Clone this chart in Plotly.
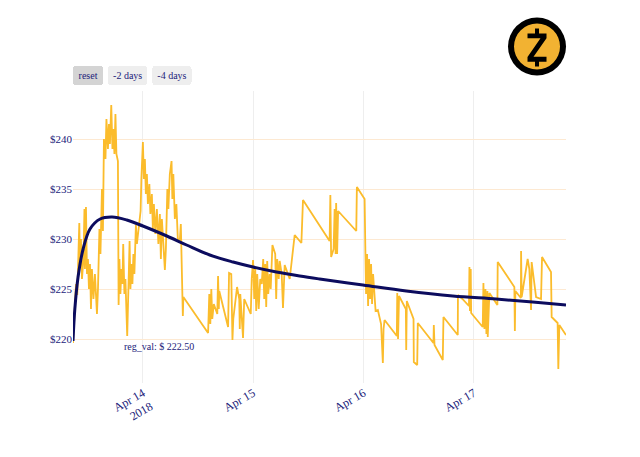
import pandas as pd
import plotly.graph_objects as go

BASE_TIME = "2018-04-14 00:00"

# price series: hours relative to BASE_TIME, and price in USD
price_hours = [
    -15.20, -14.83, -14.55, -14.27, -14.01, -13.83, -13.68, -13.47, -13.25, -12.92,
    -12.71, -12.60, -12.38, -12.16, -11.95, -11.73, -11.51, -11.29, -11.08, -10.75,
    -10.43, -9.99, -9.77, -9.45, -9.23, -8.90, -8.69, -8.47, -8.14, -7.93,
    -7.60, -7.38, -7.17, -6.88, -6.62, -6.41, -6.19, -5.97, -5.76, -5.43,
    -5.28, -5.10, -4.89, -4.67, -4.45, -4.28, -4.02, -3.80, -3.41, -3.15,
    -2.89, -2.71, -2.50, -2.28, -2.06, -1.85, -1.52, -1.30, -0.98, -0.50,
    -0.33, 0.00, 0.22, 0.43, 0.65, 0.87, 1.09, 1.41, 1.63, 1.95,
    2.17, 2.39, 2.71, 3.04, 3.37, 3.69, 3.91, 4.13, 4.45, 4.78,
    5.00, 5.32, 5.54, 5.86, 6.23, 6.41, 6.62, 6.95, 7.28, 7.60,
    8.04, 8.25, 8.69, 8.80, 14.18, 14.44, 14.66, 14.88, 15.09, 15.42,
    16.18, 16.35, 16.51, 16.61, 18.53, 18.74, 19.22, 19.48, 19.66, 20.48,
    20.96, 21.07, 21.18, 21.78, 22.04, 23.46, 23.67, 23.96, 24.22, 24.43,
    24.65, 24.87, 25.19, 25.52, 25.85, 26.17, 26.39, 26.61, 26.82, 27.04,
    27.26, 27.58, 27.80, 28.17, 28.78, 28.99, 29.21, 29.54, 29.75, 30.19,
    30.47, 30.84, 31.93, 33.01, 34.47, 34.82, 40.61, 40.77, 40.94, 41.48,
    41.70, 41.92, 42.03, 42.24, 42.46, 46.41, 46.54, 48.22, 48.37, 48.54,
    48.76, 48.98, 49.19, 49.41, 49.63, 49.84, 50.06, 50.28, 50.61, 51.10,
    51.80, 52.19, 52.34, 52.56, 55.23, 55.32, 55.49, 55.71, 57.19, 57.27,
    57.40, 58.86, 58.92, 59.66, 59.79, 63.20, 63.27, 63.42, 65.22, 65.37,
    68.48, 68.52, 69.50, 70.91, 71.02, 71.13, 71.30, 71.39, 73.91, 74.06,
    74.28, 74.50, 74.71, 74.93, 75.00, 75.36, 77.10, 77.17, 80.79, 80.90,
    81.01, 82.21, 82.25, 82.38, 82.97, 83.68, 84.05, 84.42, 84.55, 85.51,
    86.59, 86.81, 88.76, 88.90, 90.20, 90.35, 90.57, 92.02,
]
price_values = [
    219.6, 222.4, 225.5, 224.4, 229.0, 231.6, 227.5, 230.0, 226.0, 228.0,
    233.0, 227.0, 233.2, 226.5, 228.0, 225.0, 227.5, 223.0, 227.0, 224.0,
    226.5, 222.5, 225.0, 231.0, 228.5, 235.0, 230.8, 240.0, 238.0, 242.0,
    239.0, 241.5, 239.5, 243.4, 239.0, 241.0, 238.5, 242.5, 238.5, 237.8,
    223.4, 228.0, 224.5, 227.0, 225.5, 229.5, 224.5, 226.0, 220.3, 224.5,
    229.8, 225.0, 227.5, 225.5, 228.5, 226.5, 231.4, 229.5, 231.0, 232.8,
    236.0, 239.7, 236.0, 238.0, 234.5, 236.5, 233.5, 235.5, 232.5, 234.5,
    231.0, 233.5, 230.5, 233.0, 229.5, 232.5, 228.0, 232.0, 229.5, 226.9,
    229.0, 235.0, 233.0, 236.5, 237.8, 234.0, 236.5, 232.0, 233.5, 230.0,
    229.9, 231.5, 222.3, 224.2, 220.6, 224.5, 221.5, 225.0, 222.0, 223.5,
    222.5, 226.3, 223.0, 224.8, 221.2, 226.6, 226.5, 219.9, 222.0, 225.2,
    224.0, 221.0, 224.5, 220.1, 224.0, 222.5, 226.0, 227.9, 224.0, 227.0,
    222.8, 226.5, 223.0, 226.0, 225.5, 228.0, 224.0, 227.5, 223.2, 227.8,
    224.5, 226.5, 225.0, 229.4, 228.5, 224.0, 228.0, 226.0, 227.8, 226.5,
    223.1, 227.4, 226.0, 230.4, 229.6, 233.9, 229.8, 234.4, 228.2, 229.0,
    233.0, 228.5, 233.6, 228.5, 232.8, 230.8, 235.2, 234.0, 229.3, 224.5,
    228.5, 223.3, 228.0, 224.0, 227.5, 223.5, 226.5, 224.5, 222.8, 222.9,
    221.5, 217.6, 221.0, 221.9, 220.3, 224.6, 220.0, 224.3, 223.0, 218.9,
    223.8, 222.0, 217.7, 217.4, 221.6, 219.6, 221.4, 219.4, 217.9, 222.2,
    220.4, 224.4, 224.0, 223.3, 227.2, 222.8, 227.0, 222.6, 221.2, 225.6,
    221.0, 225.0, 220.5, 224.8, 220.2, 224.6, 223.4, 227.7, 225.2, 220.8,
    224.8, 224.1, 228.8, 224.2, 225.9, 228.0, 227.0, 222.9, 227.7, 224.2,
    224.0, 228.2, 226.7, 222.2, 221.6, 217.0, 221.4, 220.4,
]

# regression curve samples
reg_hours = [-15.20, -14.80, -14.10, -13.00, -11.50, -9.30, -6.70, -3.50, 0.00, 5.20,
             9.50, 14.55, 19.61, 23.96, 29.04, 34.10, 38.44, 47.85, 57.27, 67.39,
             76.82, 84.77, 92.02]
reg_values = [219.8, 223.0, 226.2, 229.0, 231.0, 232.0, 232.2, 231.9, 231.3, 230.3,
              229.4, 228.4, 227.7, 227.2, 226.7, 226.3, 226.0, 225.4, 224.8, 224.3,
              224.0, 223.7, 223.4]

reg_label = "reg_val: $ 222.50"
reg_label_hour = 3.58
reg_label_value = 219.23

y_range = [215.6, 244.8]
y_tick0 = 220
y_dtick = 5

base = pd.Timestamp(BASE_TIME)
to_time = lambda hrs: [base + pd.Timedelta(hours=h) for h in hrs]

GOLD = "#FBBC2C"
NAVY = "#0C0C5E"
TEXT = "#22227A"

fig = go.Figure()
fig.add_trace(go.Scatter(x=to_time(price_hours), y=price_values, mode="lines",
                         line=dict(color=GOLD, width=1.8), name="price",
                         showlegend=False))
fig.add_trace(go.Scatter(x=to_time(reg_hours), y=reg_values, mode="lines",
                         line=dict(color=NAVY, width=3, shape="spline"),
                         name="regression", showlegend=False))

fig.add_annotation(x=base + pd.Timedelta(hours=reg_label_hour), y=reg_label_value,
                   text=reg_label, showarrow=False,
                   font=dict(size=10, color=TEXT, family="Liberation Serif"))

# logo (Zcash-like coin) drawn as shapes, anchored in paper coordinates
ax, ay = 0.9412, 1.1524
common = dict(xref="paper", yref="paper", xsizemode="pixel", ysizemode="pixel",
              xanchor=ax, yanchor=ay, layer="above")
fig.add_shape(type="circle", x0=-29, x1=29, y0=-29, y1=29,
              fillcolor="#000000", line=dict(width=0), **common)
fig.add_shape(type="circle", x0=-23, x1=23, y0=-23, y1=23,
              fillcolor="#F2B232", line=dict(width=0), **common)
z_path = ("M -2 18 L 2 18 L 2 13 L 9.5 13 L 9.5 8.2 L -3.5 -10.2 L 9.5 -10.2 "
          "L 9.5 -15.2 L 2 -15.2 L 2 -20 L -2 -20 L -2 -15.2 L -9.5 -15.2 "
          "L -9.5 -10.5 L 3.5 8.2 L -9.5 8.2 L -9.5 13 L -2 13 Z")
fig.add_shape(type="path", path=z_path, fillcolor="#000000",
              line=dict(width=0), **common)

fig.update_layout(
    width=624, height=441,
    margin=dict(l=65, r=66, t=83, b=66),
    paper_bgcolor="white", plot_bgcolor="white",
    font=dict(family="Liberation Serif", size=12, color=TEXT),
    xaxis=dict(
        type="date",
        showgrid=True, gridcolor="#EEEEEE", gridwidth=1,
        zeroline=False, showline=False,
        tickangle=-30, tickfont=dict(size=12, color=TEXT),
        rangeselector=dict(
            buttons=[
                dict(step="all", label="reset"),
                dict(count=2, label="-2 days", step="day", stepmode="backward"),
                dict(count=4, label="-4 days", step="day", stepmode="backward"),
            ],
            bgcolor="#EEEEEE", activecolor="#D4D4D4",
            font=dict(size=10, color=TEXT),
        ),
    ),
    yaxis=dict(
        range=y_range, tickmode="linear", tick0=y_tick0, dtick=y_dtick,
        tickprefix="$",
        showgrid=True, gridcolor="#FDE9D2", gridwidth=1,
        zeroline=False, showline=False,
        tickfont=dict(size=11, color=TEXT),
    ),
)

fig.write_html("out.html")
